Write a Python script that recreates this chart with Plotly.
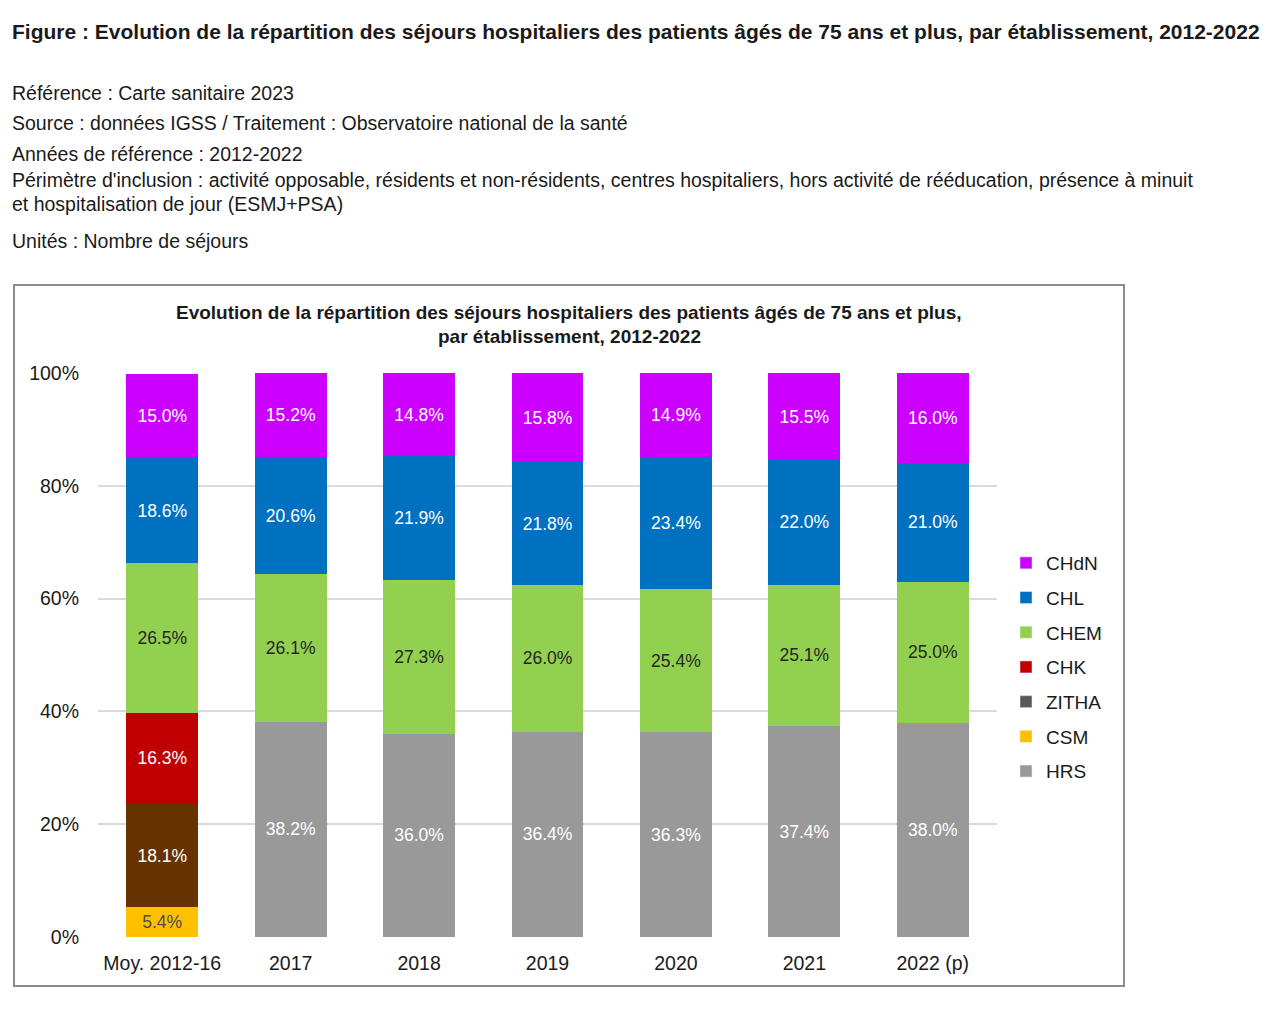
import plotly.graph_objects as go

categories = ["Moy. 2012-16", "2017", "2018", "2019", "2020", "2021", "2022 (p)"]

hrs   = [None, 38.2, 36.0, 36.4, 36.3, 37.4, 38.0]
csm   = [5.4, None, None, None, None, None, None]
zitha = [18.1, None, None, None, None, None, None]
chk   = [16.3, None, None, None, None, None, None]
chem  = [26.5, 26.1, 27.3, 26.0, 25.4, 25.1, 25.0]
chl   = [18.6, 20.6, 21.9, 21.8, 23.4, 22.0, 21.0]
chdn  = [15.0, 15.2, 14.8, 15.8, 14.9, 15.5, 16.0]

series = [
    ("HRS", hrs, "#999999", "#999999", "white"),
    ("CSM", csm, "#FFC000", "#FFC000", "#4d4d4d"),
    ("ZITHA", zitha, "#663300", "#595959", "white"),
    ("CHK", chk, "#C00000", "#C00000", "white"),
    ("CHEM", chem, "#92D050", "#92D050", "#262626"),
    ("CHL", chl, "#0070C0", "#0070C0", "white"),
    ("CHdN", chdn, "#CC00FF", "#CC00FF", "white"),
]

FONT = "Liberation Sans, Arial, Helvetica, sans-serif"

fig = go.Figure()
for name, vals, col, legcol, tcol in series:
    fig.add_trace(go.Bar(
        x=categories, y=vals, name=name, showlegend=False,
        marker=dict(color=col, line=dict(width=0)),
        text=[("%.1f%%" % v) if v is not None else "" for v in vals],
        textposition="inside", insidetextanchor="middle", textangle=0,
        constraintext="none",
        textfont=dict(color=tcol, size=17.5, family=FONT),
        hoverinfo="skip",
    ))
# legend entries (legend colour differs from bar for ZITHA, as in the source)
for name, vals, col, legcol, tcol in reversed(series):
    fig.add_trace(go.Bar(
        x=[None], y=[None], name=name, marker=dict(color=legcol),
        legendgroup=name, showlegend=True, hoverinfo="skip",
    ))

OFF = 8  # page body margin
W, H = 1264, 996
L, T = 98 - OFF, 373 - OFF
R = W - (997 - OFF)
B = H - (937 - OFF)
pw, ph = W - L - R, H - T - B

def px(x):
    return (x - OFF - L) / pw

def py(y):
    return (H - B - (y - OFF)) / ph

fig.update_layout(
    width=W, height=H,
    margin=dict(l=L, r=R, t=T, b=B, autoexpand=False),
    paper_bgcolor="white", plot_bgcolor="white",
    barmode="stack", bargap=0.44,
    font=dict(family=FONT, color="#1a1a1a"),
    xaxis=dict(showgrid=False, showline=False, ticks="",
               tickfont=dict(size=19.5, color="#1a1a1a"), ticklabelstandoff=12),
    yaxis=dict(range=[0, 100], dtick=20, ticksuffix="%", showgrid=True,
               gridcolor="#d9d9d9", gridwidth=1.5, zeroline=False, showline=False,
               tickfont=dict(size=19.5, color="#1a1a1a"), ticklabelstandoff=18),
    legend=dict(x=px(1006), y=py(667), xanchor="left", yanchor="middle",
                traceorder="grouped", tracegroupgap=7,
                font=dict(size=19, color="#1a1a1a"), itemwidth=30,
                bgcolor="rgba(0,0,0,0)"),
    showlegend=True,
)

ann = []
def text(x, y, s, size, bold=False, anchor="left"):
    ann.append(dict(xref="paper", yref="paper", x=px(x), y=py(y), xanchor=anchor,
                    yanchor="middle", text=("<b>%s</b>" % s) if bold else s,
                    showarrow=False, font=dict(size=size, family=FONT, color="#1a1a1a")))

text(10, 32, "Figure : Evolution de la répartition des séjours hospitaliers des patients âgés de 75 ans et plus, par établissement, 2012-2022", 21, bold=True)
text(10, 93, "Référence : Carte sanitaire 2023", 19.5)
text(10, 123, "Source : données IGSS / Traitement : Observatoire national de la santé", 19.5)
text(10, 154, "Années de référence : 2012-2022", 19.5)
text(10, 180, "Périmètre d'inclusion : activité opposable, résidents et non-résidents, centres hospitaliers, hors activité de rééducation, présence à minuit", 19.5)
text(10, 204, "et hospitalisation de jour (ESMJ+PSA)", 19.5)
text(10, 241, "Unités : Nombre de séjours", 19.5)
text(569, 312, "Evolution de la répartition des séjours hospitaliers des patients âgés de 75 ans et plus,", 19, bold=True, anchor="center")
text(569, 336, "par établissement, 2012-2022", 19, bold=True, anchor="center")
fig.update_layout(annotations=ann)

fig.add_shape(type="rect", xref="paper", yref="paper",
              x0=px(14), x1=px(1124), y0=py(986), y1=py(285),
              line=dict(color="#8c8c8c", width=2), fillcolor="rgba(0,0,0,0)", layer="below")

fig.write_html("out.html")
